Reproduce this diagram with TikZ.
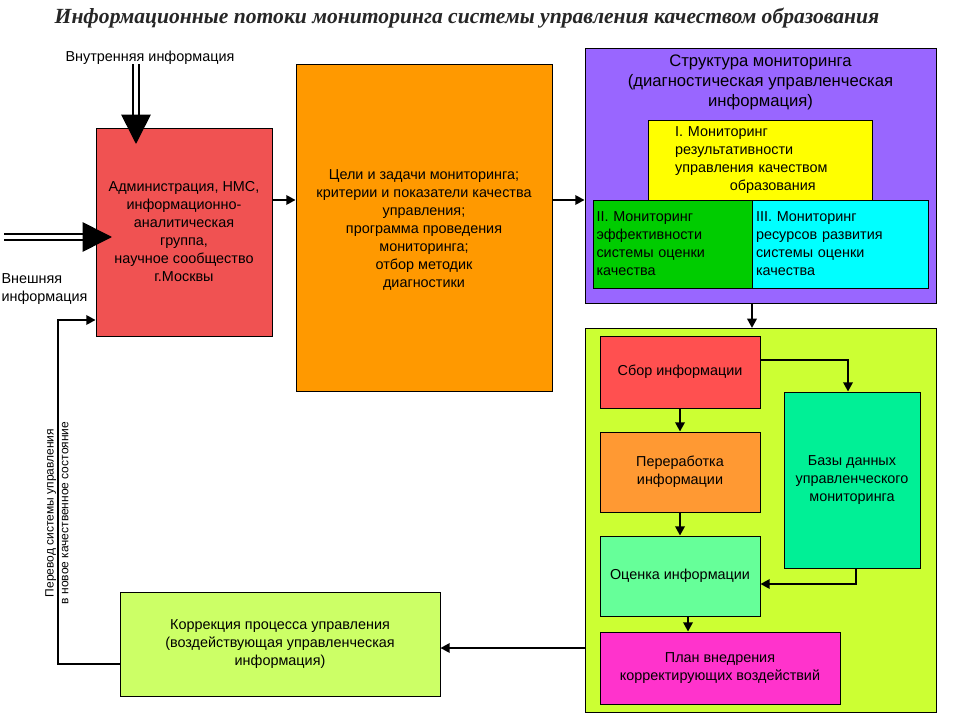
\documentclass[tikz,border=0pt]{standalone}
\usepackage{fontspec}
\setmainfont{Liberation Sans}
\newfontfamily\titlefont{Liberation Serif}
\usetikzlibrary{arrows.meta}
\begin{document}
\begin{tikzpicture}[x=0.75pt,y=-0.75pt,
  bx/.style={draw=black,line width=0.6pt,align=center,inner sep=1pt,font=\fontsize{10.8}{13.5}\selectfont},
  tx/.style={align=center,inner sep=1pt,font=\fontsize{10.8}{13.5}\selectfont},
  arr/.style={line width=2pt,-{Triangle[length=7pt,width=7pt]}},
  dbl/.style={double distance=3pt,line width=1.2pt,-{Triangle[length=22pt,width=22pt]}}]
\useasboundingbox (0,0) rectangle (960,720);
\fill[white] (0,0) rectangle (960,720);
\node[font=\titlefont\bfseries\itshape\fontsize{16.2}{19}\selectfont,text=black!85] (title) at (467,18) {Информационные потоки мониторинга системы управления качеством образования};
% boxes
\node[bx,fill={rgb,255:red,240;green,82;blue,82},minimum width=176*0.75pt,minimum height=208*0.75pt] (adm) at (184,232) {Администрация, НМС,\\информационно-\\аналитическая\\группа,\\научное сообщество\\г.Москвы};
\node[bx,fill={rgb,255:red,255;green,153;blue,0},minimum width=256*0.75pt,minimum height=327*0.75pt] (goal) at (424,227.5) {};
\node[tx] (goalt) at (424,230) {Цели и задачи мониторинга;\\ критерии и показатели качества\\управления;\\ программа проведения\\мониторинга;\\ отбор методик\\диагностики};
\node[bx,fill={rgb,255:red,153;green,102;blue,255},minimum width=351*0.75pt,minimum height=255*0.75pt] (struct) at (760.5,175.5) {};
\node[font=\fontsize{12.5}{15}\selectfont,align=center] (structt) at (760.5,82) {Структура мониторинга\\(диагностическая управленческая\\информация)};
\node[bx,fill={rgb,255:red,255;green,255;blue,0},minimum width=224*0.75pt,minimum height=80*0.75pt,text width=210*0.75pt,align=left] (m1) at (760,160) {\hspace*{1.4em}I. Мониторинг\\ \hspace*{1.4em}результативности\\ \hspace*{1.4em}управления качеством\\ \hspace*{5.2em}образования};
\node[bx,fill={rgb,255:red,0;green,204;blue,0},minimum width=159*0.75pt,minimum height=88*0.75pt,text width=152*0.75pt,align=left] (m2) at (672.5,244) {II. Мониторинг\\эффективности\\системы оценки\\качества};
\node[bx,fill={rgb,255:red,0;green,255;blue,255},minimum width=176*0.75pt,minimum height=88*0.75pt,text width=168*0.75pt,align=left] (m3) at (840,244) {III. Мониторинг\\ресурсов развития\\системы оценки\\качества};
\node[bx,fill={rgb,255:red,204;green,255;blue,51},minimum width=351*0.75pt,minimum height=384*0.75pt] (lime) at (760.5,520) {};
\node[bx,fill={rgb,255:red,255;green,80;blue,80},minimum width=160*0.75pt,minimum height=72*0.75pt] (sbor) at (680,372) {Сбор информации};
\node[bx,fill={rgb,255:red,255;green,153;blue,51},minimum width=160*0.75pt,minimum height=80*0.75pt] (pere) at (680,472) {Переработка\\информации};
\node[bx,fill={rgb,255:red,102;green,255;blue,153},minimum width=160*0.75pt,minimum height=80*0.75pt] (ots) at (680,576) {Оценка информации};
\node[bx,fill={rgb,255:red,0;green,240;blue,150},minimum width=136*0.75pt,minimum height=176*0.75pt] (baz) at (852,480) {Базы данных\\управленческого\\мониторинга};
\node[bx,fill={rgb,255:red,255;green,51;blue,204},minimum width=240*0.75pt,minimum height=72*0.75pt] (plan) at (720,668) {План внедрения\\корректирующих воздействий};
\node[bx,fill={rgb,255:red,204;green,255;blue,102},minimum width=320*0.75pt,minimum height=104*0.75pt] (kor) at (280,644) {Коррекция процесса управления\\(воздействующая управленческая\\информация)};
% labels
\node[tx] (vn) at (150,58) {Внутренняя информация};
\node[tx,align=left,anchor=west] (ext) at (0,289) {Внешняя\\информация};
\node[font=\fontsize{9}{11}\selectfont,rotate=90,align=center] (perev) at (57,513) {Перевод системы управления\\в новое качественное состояние};
% connectors
\coordinate (vtop) at (136,64);
\coordinate (etop) at (4,237);
\draw[dbl] (vtop) -- (136,144);
\draw[dbl] (etop) -- (112,237);
\draw[arr] (adm.east |- 0,200) -- (goal.west |- 0,200);
\draw[arr] (goal.east |- 0,200) -- (struct.west |- 0,200);
\draw[arr] (752,303) -- (752,328);
\draw[arr] (sbor.east |- 0,360) -| (baz.north -| 848,0);
\draw[arr] (sbor.south) -- (pere.north);
\draw[arr] (pere.south) -- (ots.north);
\draw[arr] (baz.south -| 856,0) |- (ots.east |- 0,584);
\draw[arr] (688,616) -- (plan.north -| 688,0);
\draw[arr] (lime.west |- 0,648) -- (kor.east |- 0,648);
\draw[arr] (kor.west |- 0,664) -| (58,320) -- (adm.west |- 0,320);
\end{tikzpicture}
\end{document}
